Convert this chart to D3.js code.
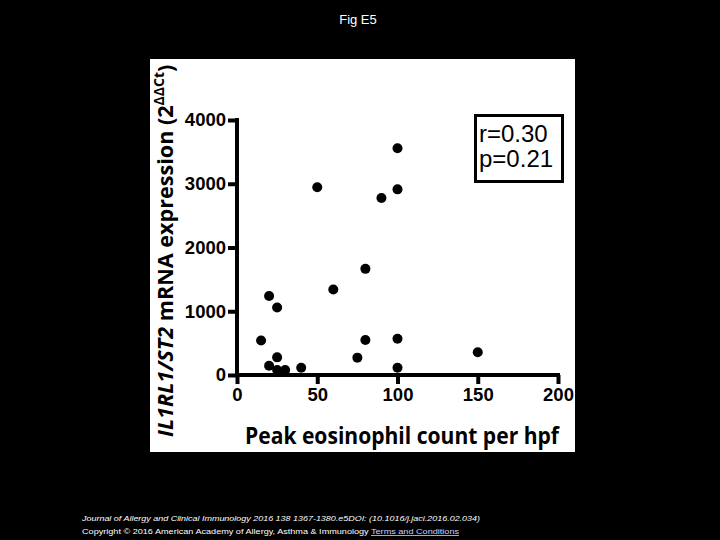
<!DOCTYPE html>
<html>
<head>
<meta charset="utf-8">
<script src="https://cdn.jsdelivr.net/npm/d3@7"></script>
<style>
  body { margin: 0; background: #000; }
</style>
</head>
<body>
<div id="chartContainer"></div>
<script>
// Peak eosinophil count per hpf (x) and IL1RL1/ST2 expression (y)
var eosCount = [15, 20, 25, 20, 25, 25, 30, 40, 50, 60, 75, 80, 80, 90, 100, 100, 100, 100, 150];
var st2Expr  = [540, 1240, 1060, 146, 277, 78, 78, 115, 2945, 1340, 272, 1665, 549, 2776, 3556, 2912, 570, 115, 356];
var xTicks = [0, 50, 100, 150, 200];
var yTicks = [0, 1000, 2000, 3000, 4000];
var statLines = ["r=0.30", "p=0.21"];

var svg = d3.select("#chartContainer").append("svg")
  .attr("width", 720)
  .attr("height", 540);

svg.append("rect").attr("width", 720).attr("height", 540).attr("fill", "#000");

// title
svg.append("text")
  .attr("x", 358).attr("y", 24)
  .attr("text-anchor", "middle")
  .style("font-family", "Liberation Sans, Arial, sans-serif")
  .style("font-size", "13px")
  .attr("fill", "#fff")
  .text("Fig E5");

// white figure panel
svg.append("rect")
  .attr("x", 150).attr("y", 59)
  .attr("width", 425).attr("height", 393)
  .attr("fill", "#fff");

var x = d3.scaleLinear().domain([0, 200]).range([237, 558]);
var y = d3.scaleLinear().domain([0, 4000]).range([375, 120]);

var xAxis = svg.append("g")
  .attr("transform", "translate(0," + y(0) + ")")
  .call(d3.axisBottom(x).tickValues(xTicks).tickFormat(d3.format("d"))
    .tickSize(9).tickSizeOuter(0).tickPadding(4));

var yAxis = svg.append("g")
  .attr("transform", "translate(" + x(0) + ",0)")
  .call(d3.axisLeft(y).tickValues(yTicks).tickFormat(d3.format("d"))
    .tickSize(9).tickSizeOuter(0).tickPadding(2));

[xAxis, yAxis].forEach(function (a) {
  a.select(".domain").attr("stroke", "#000").attr("stroke-width", 4);
  a.selectAll(".tick line").attr("stroke", "#000").attr("stroke-width", 4);
  a.selectAll(".tick text")
    .attr("fill", "#000")
    .style("font-family", "Liberation Sans, Arial, sans-serif")
    .style("font-weight", "bold")
    .style("font-size", "18.5px");
});
xAxis.selectAll(".domain").attr("d", "M" + x(0) + ",0H" + (x(200) + 2));
yAxis.selectAll(".domain").attr("d", "M0," + y(0) + "V" + (y(4000) - 2));

// points
svg.append("g").selectAll("circle")
  .data(eosCount)
  .enter()
  .append("circle")
  .attr("cx", function (d) { return x(d); })
  .attr("cy", function (d, i) { return y(st2Expr[i]); })
  .attr("r", 5)
  .attr("fill", "#000");

// x title
svg.append("text")
  .attr("x", 245).attr("y", 444)
  .attr("textLength", 314)
  .attr("lengthAdjust", "spacingAndGlyphs")
  .style("font-family", "Open Sans, sans-serif")
  .style("font-weight", "bold")
  .style("font-size", "23px")
  .attr("fill", "#000")
  .text("Peak eosinophil count per hpf");

// y title
var yt = svg.append("text")
  .attr("transform", "translate(173,437) rotate(-90)")
  .style("font-family", "Open Sans, sans-serif")
  .style("font-weight", "bold")
  .style("font-size", "21.6px")
  .attr("fill", "#000");
yt.append("tspan").style("font-style", "italic").text("IL1RL1/ST2");
yt.append("tspan").text(" mRNA expression (2");
yt.append("tspan").attr("dy", -9).style("font-size", "14px").text("ΔΔCt");
yt.append("tspan").attr("dy", 9).text(")");

// stats box
svg.append("rect")
  .attr("x", 475.5).attr("y", 115.5)
  .attr("width", 87).attr("height", 66)
  .attr("fill", "#fff")
  .attr("stroke", "#000")
  .attr("stroke-width", 3);

svg.selectAll("text.stat")
  .data(statLines)
  .enter()
  .append("text")
  .attr("class", "stat")
  .attr("x", 479)
  .attr("y", function (d, i) { return 142 + i * 25; })
  .style("font-family", "Liberation Sans, Arial, sans-serif")
  .style("font-size", "24px")
  .attr("fill", "#000")
  .text(function (d) { return d; });

// footer
var foot = svg.append("g")
  .style("font-family", "Liberation Sans, Arial, sans-serif")
  .style("font-size", "8px")
  .attr("fill", "#fff");

foot.append("text")
  .attr("x", 82).attr("y", 521)
  .attr("textLength", 398)
  .attr("lengthAdjust", "spacingAndGlyphs")
  .style("font-style", "italic")
  .text("Journal of Allergy and Clinical Immunology 2016 138 1367-1380.e5DOI: (10.1016/j.jaci.2016.02.034)");

var l2 = foot.append("text")
  .attr("x", 82).attr("y", 534)
  .attr("textLength", 377)
  .attr("lengthAdjust", "spacingAndGlyphs");
l2.append("tspan").text("Copyright © 2016 American Academy of Allergy, Asthma & Immunology ");
l2.append("tspan")
  .attr("fill", "#d0d0ff")
  .style("text-decoration", "underline")
  .text("Terms and Conditions");
</script>
</body>
</html>
